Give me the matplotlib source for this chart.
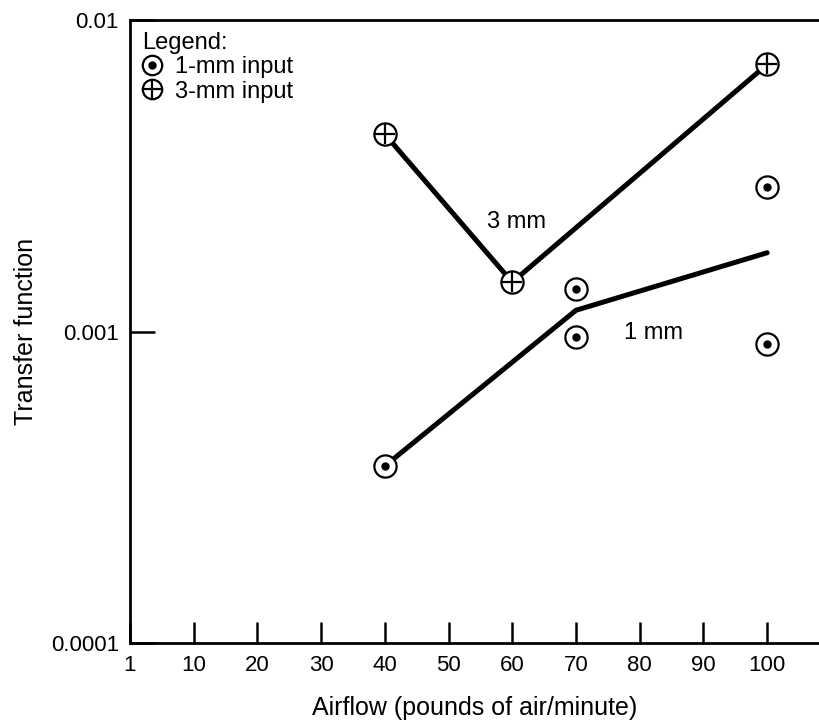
import matplotlib.pyplot as plt
from matplotlib.lines import Line2D

plt.rcParams['font.family'] = ['Liberation Sans', 'DejaVu Sans']

# airflow ticks (evenly spaced, first labelled "1")
tick_pos = [0, 10, 20, 30, 40, 50, 60, 70, 80, 90, 100]
tick_lbl = ['1', '10', '20', '30', '40', '50', '60', '70', '80', '90', '100']

# 3-mm input points and its line
x_3mm = [40, 60, 100]
y_3mm = [0.0043, 0.00144, 0.0072]

# 1-mm input points
x_1mm = [40, 70, 70, 100, 100]
y_1mm = [0.00037, 0.00137, 0.00096, 0.0029, 0.00091]

# 1-mm fitted line
x_1mm_line = [40, 70, 100]
y_1mm_line = [0.00037, 0.00117, 0.00179]

fig = plt.figure(figsize=(8.2, 7.21), dpi=100)
ax = fig.add_axes([0.1585, 0.1082, 0.8415, 0.864])

ax.plot(x_3mm, y_3mm, color='black', lw=3.6, zorder=2, solid_capstyle='round')
ax.plot(x_1mm_line, y_1mm_line, color='black', lw=3.6, zorder=2, solid_capstyle='round')

ms = 16
# circled plus
ax.plot(x_3mm, y_3mm, 'o', ms=ms, mfc='white', mec='black', mew=1.6, zorder=3)
ax.plot(x_3mm, y_3mm, '+', ms=ms - 1, mec='black', mew=1.6, zorder=4)
# circled dot
ax.plot(x_1mm, y_1mm, 'o', ms=ms, mfc='white', mec='black', mew=1.6, zorder=3)
ax.plot(x_1mm, y_1mm, 'o', ms=5, mfc='black', mec='black', zorder=4)

ax.text(60.6, 0.00225, '3 mm', fontsize=17, ha='center', va='center')
ax.text(82.1, 0.00099, '1 mm', fontsize=17, ha='center', va='center')

ax.set_yscale('log')
ax.set_ylim(1e-4, 1e-2)
ax.set_xlim(0, 108.3)
ax.set_yticks([1e-4, 1e-3, 1e-2])
ax.set_yticklabels(['0.0001', '0.001', '0.01'])
ax.minorticks_off()
ax.set_xticks(tick_pos)
ax.set_xticklabels(tick_lbl)

ax.tick_params(axis='x', direction='in', length=15, width=1.8, pad=9, labelsize=16)
ax.tick_params(axis='y', direction='in', length=18, width=1.8, pad=8, labelsize=16)

for s in ['left', 'bottom', 'top']:
    ax.spines[s].set_linewidth(2)
ax.spines['right'].set_visible(False)

ax.set_xlabel('Airflow (pounds of air/minute)', fontsize=18, labelpad=14)
ax.set_ylabel('Transfer function', fontsize=18, labelpad=9)

lms = 14
h1 = (Line2D([], [], ls='', marker='o', ms=lms, mfc='white', mec='black', mew=1.6),
      Line2D([], [], ls='', marker='o', ms=5, mfc='black', mec='black'))
h3 = (Line2D([], [], ls='', marker='o', ms=lms, mfc='white', mec='black', mew=1.6),
      Line2D([], [], ls='', marker='+', ms=lms - 1, mec='black', mew=1.6))
leg = ax.legend([h1, h3], ['1-mm input', '3-mm input'], title='Legend:',
                loc='upper left', frameon=False, alignment='left', fontsize=17,
                title_fontsize=17, handlelength=0.9, handletextpad=0.5,
                labelspacing=0.1, borderaxespad=0.2, borderpad=0.3)

fig.savefig('out.png', dpi=100)
